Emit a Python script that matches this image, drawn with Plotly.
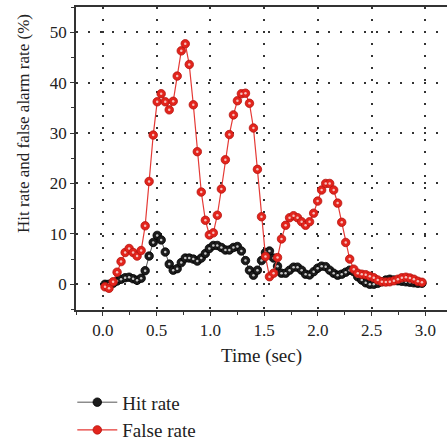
import plotly.graph_objects as go

time_sec = [0.020, 0.057, 0.095, 0.132, 0.169, 0.207, 0.244, 0.281, 0.318, 0.356,
            0.393, 0.430, 0.468, 0.505, 0.542, 0.580, 0.617, 0.654, 0.691, 0.729,
            0.766, 0.803, 0.841, 0.878, 0.915, 0.953, 0.990, 1.027, 1.064, 1.102,
            1.139, 1.176, 1.214, 1.251, 1.288, 1.326, 1.363, 1.400, 1.437, 1.475,
            1.512, 1.549, 1.587, 1.624, 1.661, 1.699, 1.736, 1.773, 1.810, 1.848,
            1.885, 1.922, 1.960, 1.997, 2.034, 2.072, 2.109, 2.146, 2.183, 2.221,
            2.258, 2.295, 2.333, 2.370, 2.407, 2.444, 2.482, 2.519, 2.556, 2.594,
            2.631, 2.668, 2.706, 2.743, 2.780, 2.818, 2.855, 2.892, 2.929, 2.967]

hit_rate = [0.0, 0.0, 0.2, 0.65, 1.0, 1.3, 1.4, 1.1, 0.8, 1.2,
            2.7, 5.6, 8.3, 9.7, 8.8, 6.4, 4.0, 2.8, 3.1, 4.3,
            5.2, 5.2, 5.0, 4.6, 5.2, 6.1, 7.1, 7.7, 7.7, 7.3,
            6.8, 6.8, 7.3, 7.5, 6.6, 4.7, 2.8, 1.8, 2.8, 4.7,
            6.3, 6.6, 5.2, 3.6, 2.2, 2.2, 2.8, 3.4, 3.4, 2.8,
            2.0, 1.85, 2.5, 3.2, 3.6, 3.5, 2.8, 2.2, 1.8, 2.0,
            2.4, 2.8, 2.5, 1.5, 0.85, 0.3, 0.0, 0.0, 0.2, 0.5,
            0.85, 1.0, 0.85, 0.7, 0.6, 0.5, 0.4, 0.3, 0.2, 0.2]

false_rate = [-0.5, -0.8, 0.5, 2.4, 4.5, 6.3, 7.1, 6.3, 5.6, 6.7,
              11.6, 20.4, 29.6, 36.2, 37.8, 36.2, 34.6, 36.3, 41.3, 46.3,
              47.7, 43.6, 35.6, 26.3, 18.3, 12.7, 9.8, 10.2, 13.7, 18.9,
              24.7, 29.7, 33.6, 36.4, 37.8, 37.9, 35.9, 31.0, 22.8, 13.4,
              5.5, 1.5, 2.2, 5.3, 9.0, 11.7, 13.2, 13.6, 13.2, 12.4,
              11.7, 12.4, 14.1, 16.5, 18.7, 20.0, 20.0, 18.7, 16.1, 12.3,
              8.3, 5.0, 3.0, 2.2, 2.0, 1.9, 1.6, 1.3, 0.85, 0.5,
              0.45, 0.5, 0.7, 1.0, 1.3, 1.4, 1.25, 1.0, 0.6, 0.4]

x_ticks = [0.0, 0.5, 1.0, 1.5, 2.0, 2.5, 3.0]
x_tick_labels = ["0.0", "0.5", "1.0", "1.5", "2.0", "2.5", "3.0"]
y_ticks = [0, 10, 20, 30, 40, 50]
y_tick_labels = ["0", "10", "20", "30", "40", "50"]

FONT = "Liberation Serif"

fig = go.Figure()

fig.add_trace(go.Scatter(
    x=time_sec, y=hit_rate, mode="lines+markers", name="Hit rate",
    line=dict(color="#555555", width=1),
    marker=dict(size=8.5, color="#1c1c1c", line=dict(color="#000000", width=0.8)),
))
fig.add_trace(go.Scatter(
    x=time_sec, y=hit_rate, mode="markers", showlegend=False, hoverinfo="skip",
    marker=dict(size=2.5, color="#c8c8c8"),
))
fig.add_trace(go.Scatter(
    x=time_sec, y=false_rate, mode="lines+markers", name="False rate",
    line=dict(color="#e53935", width=1.2),
    marker=dict(size=8.5, color="#e3241c", line=dict(color="#b5140f", width=0.8)),
))
fig.add_trace(go.Scatter(
    x=time_sec, y=false_rate, mode="markers", showlegend=False, hoverinfo="skip",
    marker=dict(size=2.5, color="#f6c0bc"),
))

fig.update_layout(
    width=447, height=443,
    margin=dict(l=76, r=0, t=7, b=133, autoexpand=False),
    paper_bgcolor="white", plot_bgcolor="white",
    font=dict(family=FONT, size=17, color="#222222"),
    showlegend=True,
    legend=dict(x=-0.01, y=-0.242, xanchor="left", yanchor="top",
                orientation="v", font=dict(family=FONT, size=19, color="#222222"),
                bgcolor="rgba(0,0,0,0)", tracegroupgap=0, itemwidth=40),
    xaxis=dict(
        range=[-0.25, 3.2], tickvals=x_ticks, ticktext=x_tick_labels,
        ticks="outside", ticklen=4, tickwidth=1.2, tickcolor="#333333",
        minor=dict(dtick=0.25, tick0=0, ticks="outside", ticklen=3, tickcolor="#333333", showgrid=False),
        showline=True, linecolor="#333333", linewidth=1.5, mirror=True,
        showgrid=True, gridcolor="#333333", gridwidth=1.5, griddash="1.5px,10.5px",
        zeroline=False, automargin=False,
        title=dict(text="Time (sec)", font=dict(family=FONT, size=19, color="#222222"), standoff=10),
        tickfont=dict(family=FONT, size=17),
    ),
    yaxis=dict(
        range=[-5.1, 55], tickvals=y_ticks, ticktext=y_tick_labels,
        ticks="outside", ticklen=4, tickwidth=1.2, tickcolor="#333333",
        minor=dict(dtick=5, tick0=0, ticks="outside", ticklen=3, tickcolor="#333333", showgrid=False),
        showline=True, linecolor="#333333", linewidth=1.5, mirror=False,
        showgrid=True, gridcolor="#333333", gridwidth=1.5, griddash="1.5px,10.5px",
        zeroline=False, automargin=False,
        tickfont=dict(family=FONT, size=17),
    ),
    annotations=[dict(
        text="Hit rate and false alarm rate (%)", textangle=-90,
        xref="paper", yref="paper", x=-0.143, y=0.617,
        xanchor="center", yanchor="middle", showarrow=False,
        font=dict(family=FONT, size=17, color="#222222"),
    )],
)

fig.write_html("out.html")
